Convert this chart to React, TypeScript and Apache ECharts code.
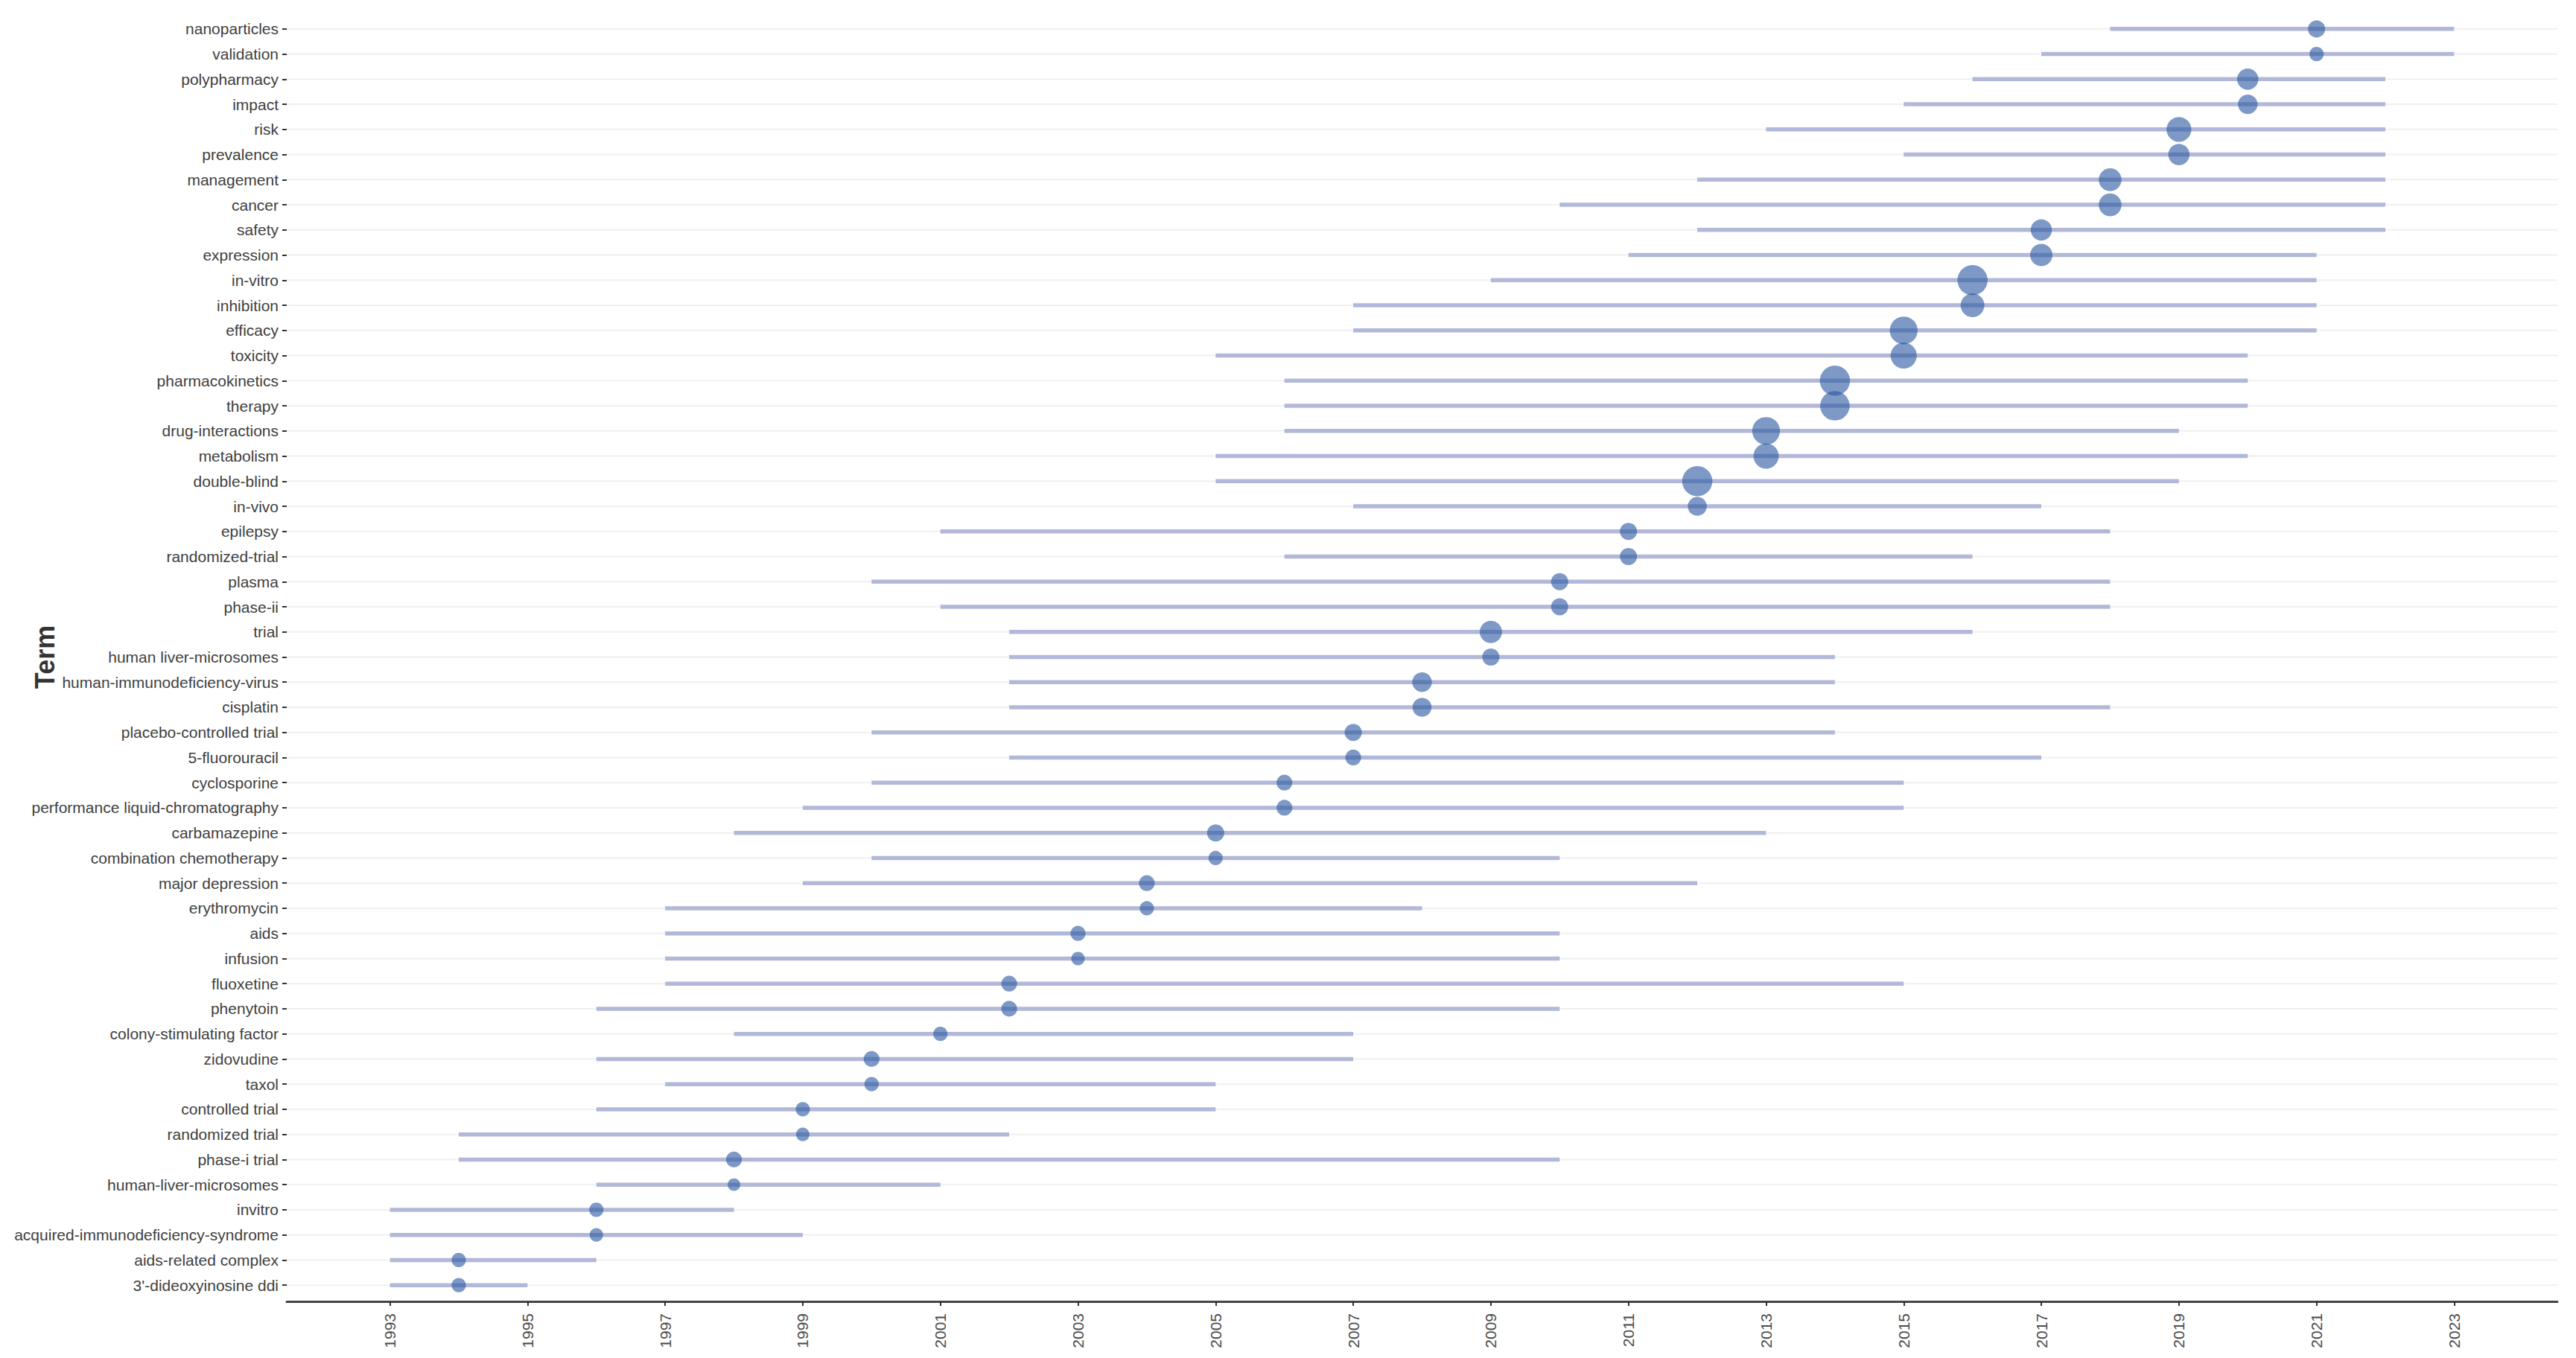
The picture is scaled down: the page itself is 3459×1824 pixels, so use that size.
import React, { useEffect, useRef } from "react";
import * as echarts from "echarts";

const terms = [
  "nanoparticles", "validation", "polypharmacy", "impact", "risk", "prevalence",
  "management", "cancer", "safety", "expression", "in-vitro", "inhibition",
  "efficacy", "toxicity", "pharmacokinetics", "therapy", "drug-interactions",
  "metabolism", "double-blind", "in-vivo", "epilepsy", "randomized-trial",
  "plasma", "phase-ii", "trial", "human liver-microsomes",
  "human-immunodeficiency-virus", "cisplatin", "placebo-controlled trial",
  "5-fluorouracil", "cyclosporine", "performance liquid-chromatography",
  "carbamazepine", "combination chemotherapy", "major depression",
  "erythromycin", "aids", "infusion", "fluoxetine", "phenytoin",
  "colony-stimulating factor", "zidovudine", "taxol", "controlled trial",
  "randomized trial", "phase-i trial", "human-liver-microsomes", "invitro",
  "acquired-immunodeficiency-syndrome", "aids-related complex",
  "3'-dideoxyinosine ddi",
];

const startYear = [
  2018, 2017, 2016, 2015, 2013, 2015, 2012, 2010, 2012, 2011, 2009, 2007, 2007,
  2005, 2006, 2006, 2006, 2005, 2005, 2007, 2001, 2006, 2000, 2001, 2002, 2002,
  2002, 2002, 2000, 2002, 2000, 1999, 1998, 2000, 1999, 1997, 1997, 1997, 1997,
  1996, 1998, 1996, 1997, 1996, 1994, 1994, 1996, 1993, 1993, 1993, 1993,
];

const endYear = [
  2023, 2023, 2022, 2022, 2022, 2022, 2022, 2022, 2022, 2021, 2021, 2021, 2021,
  2020, 2020, 2020, 2019, 2020, 2019, 2017, 2018, 2016, 2018, 2018, 2016, 2014,
  2014, 2018, 2014, 2017, 2015, 2015, 2013, 2010, 2012, 2008, 2010, 2010, 2015,
  2010, 2007, 2007, 2005, 2005, 2002, 2010, 2001, 1998, 1999, 1996, 1995,
];

const peakYear = [
  2021, 2021, 2020, 2020, 2019, 2019, 2018, 2018, 2017, 2017, 2016, 2016, 2015,
  2015, 2014, 2014, 2013, 2013, 2012, 2012, 2011, 2011, 2010, 2010, 2009, 2009,
  2008, 2008, 2007, 2007, 2006, 2006, 2005, 2005, 2004, 2004, 2003, 2003, 2002,
  2002, 2001, 2000, 2000, 1999, 1999, 1998, 1998, 1996, 1996, 1994, 1994,
];

const frequency = [
  13, 9, 20, 17, 27, 20, 23, 23, 20, 22, 40, 25, 34, 30, 40, 38, 34, 28, 40, 16,
  13, 13, 13, 13, 22, 13, 17, 16, 13, 11, 11, 11, 13, 9, 11, 9, 10, 8, 11, 11, 9,
  11, 9, 9, 8, 11, 7, 9, 8, 9, 9,
];

const yearTicks = [
  1993, 1995, 1997, 1999, 2001, 2003, 2005, 2007, 2009, 2011, 2013, 2015, 2017,
  2019, 2021, 2023,
];

export default function App() {
  const ref = useRef<HTMLDivElement>(null);

  useEffect(() => {
    if (!ref.current) return;
    const chart = echarts.init(ref.current, undefined, { renderer: "svg" });

    const gridData = terms.map((t) => [t]);
    const segData = terms.map((t, i) => [startYear[i], endYear[i], t]);
    const dotData = terms.map((t, i) => [peakYear[i], t, frequency[i]]);

    chart.setOption({
      animation: false,
      backgroundColor: "#ffffff",
      grid: {
        left: 385,
        right: 25,
        top: 22,
        bottom: 81,
        containLabel: false,
        outerBoundsMode: "none",
      },
      xAxis: {
        type: "value",
        min: 1991.5,
        max: 2024.5,
        offset: 5,
        axisLine: { show: true, lineStyle: { color: "#444444", width: 3 } },
        axisTick: {
          show: true,
          customValues: yearTicks,
          length: 6,
          lineStyle: { color: "#333333", width: 2 },
        },
        axisLabel: {
          customValues: yearTicks,
          rotate: 90,
          margin: 16,
          fontSize: 21,
          color: "#4d4d4d",
          fontFamily: "Liberation Sans",
          formatter: (v: number) => String(v),
        },
        splitLine: { show: false },
      },
      yAxis: {
        type: "category",
        data: terms,
        inverse: true,
        name: "Term",
        nameLocation: "middle",
        nameRotate: 90,
        nameGap: 307,
        nameMoveOverlap: false,
        nameTextStyle: {
          fontSize: 36,
          fontWeight: "bold",
          color: "#333333",
          fontFamily: "Liberation Sans",
        },
        axisLine: { show: false },
        axisTick: {
          show: true,
          alignWithLabel: true,
          length: 6,
          lineStyle: { color: "#333333", width: 2 },
        },
        axisLabel: {
          margin: 11,
          fontSize: 21,
          color: "#404040",
          fontFamily: "Liberation Sans",
          interval: 0,
        },
        splitLine: { show: false },
      },
      series: [
        {
          type: "custom",
          name: "grid",
          silent: true,
          z: 1,
          data: gridData,
          encode: { y: 0 },
          renderItem: (params: any, api: any) => {
            const cs = params.coordSys;
            const p = api.coord([1991.5, api.value(0)]);
            return {
              type: "line",
              shape: { x1: cs.x, y1: p[1], x2: cs.x + cs.width, y2: p[1] },
              style: { stroke: "#f0f0f0", lineWidth: 2 },
            };
          },
        },
        {
          type: "custom",
          name: "span",
          z: 2,
          data: segData,
          encode: { x: [0, 1], y: 2 },
          renderItem: (params: any, api: any) => {
            const s = api.coord([api.value(0), api.value(2)]);
            const e = api.coord([api.value(1), api.value(2)]);
            return {
              type: "line",
              shape: { x1: s[0], y1: s[1], x2: e[0], y2: e[1] },
              style: { stroke: "#b2b8d8", lineWidth: 5.5, lineCap: "butt" },
            };
          },
        },
        {
          type: "scatter",
          name: "peak",
          z: 3,
          data: dotData,
          encode: { x: 0, y: 1 },
          symbol: "circle",
          symbolSize: (val: any[]) => 6.4 * Math.sqrt(val[2]),
          itemStyle: { color: "rgba(40,85,160,0.75)" },
        },
      ],
    });

    return () => chart.dispose();
  }, []);

  return (
    <div
      ref={ref}
      style={{ position: "absolute", left: 0, top: 0, width: 3459, height: 1824 }}
    />
  );
}
